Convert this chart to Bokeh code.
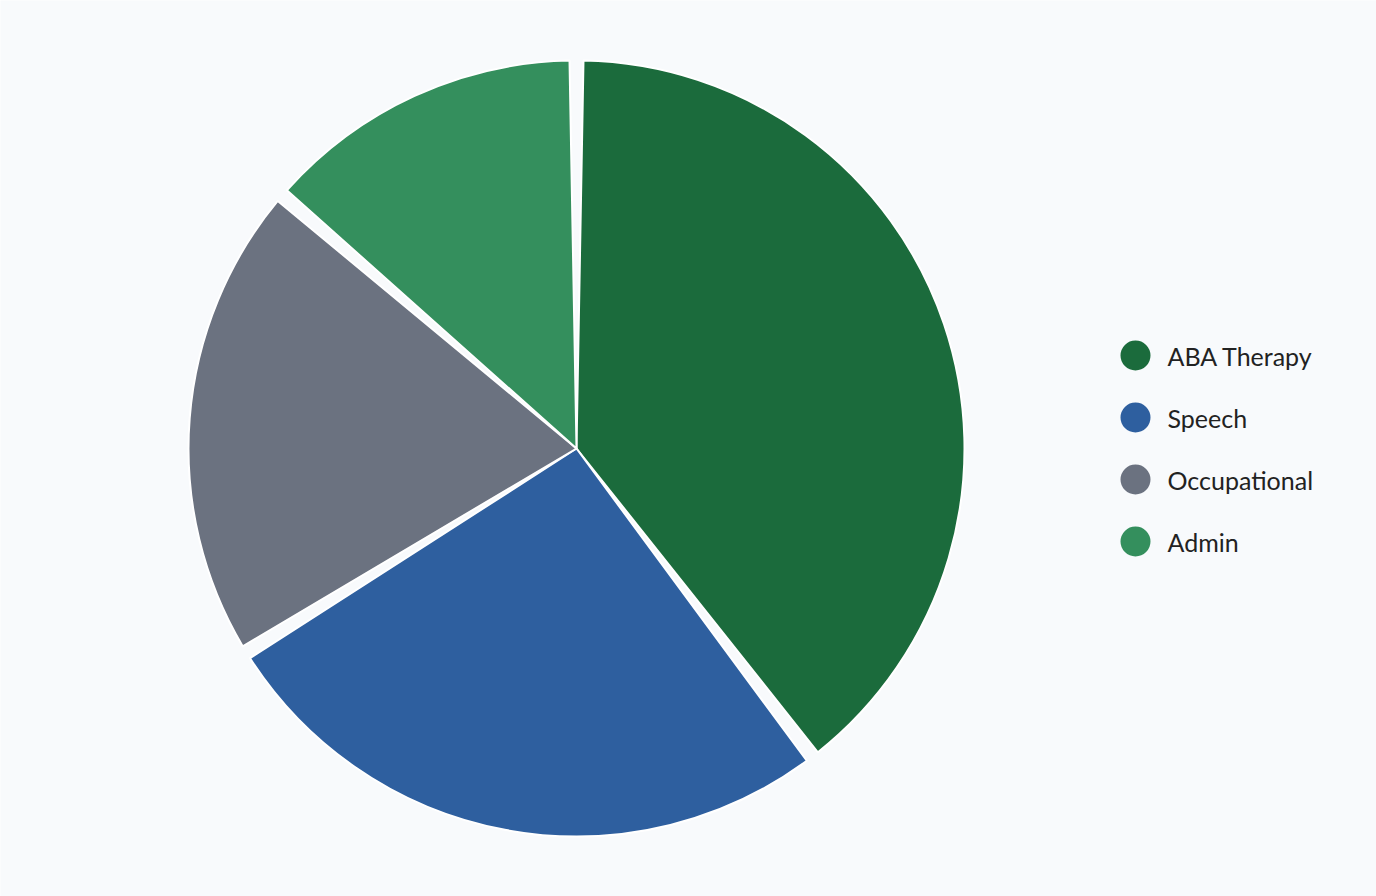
import math
from bokeh.plotting import figure
from bokeh.models import ColumnDataSource, Range1d
from bokeh.embed import file_html
from bokeh.resources import INLINE
from bokeh.core.properties import value

# ---- data ----
categories = ["ABA Therapy", "Speech", "Occupational", "Admin"]
shares = [39.6, 26.6, 20.1, 13.7]
colors = ["#1b6b3c", "#2e5f9f", "#6b7280", "#348f5d"]

BG = "#f8fafc"
W, H = 1376, 896
cx, cy, R = 576, 448, 388
gap_px = 7.0  # half gap at outer radius

total = sum(shares)
starts, ends = [], []
acc = 0.0
for s in shares:
    a0 = math.pi / 2 - 2 * math.pi * acc / total
    acc += s
    a1 = math.pi / 2 - 2 * math.pi * acc / total
    d = gap_px / R
    starts.append(a0 - d)
    ends.append(a1 + d)

src = ColumnDataSource(dict(x=[cx] * 4, y=[cy] * 4, start=starts, end=ends,
                            color=colors, cat=categories))

p = figure(width=W, height=H, output_backend="svg", toolbar_location=None,
           x_range=Range1d(0, W), y_range=Range1d(0, H), min_border=0)
p.axis.visible = False
p.grid.visible = False
p.outline_line_color = None
p.background_fill_color = BG
p.border_fill_color = BG

p.wedge(x="x", y="y", radius=R, start_angle="start", end_angle="end",
        direction="clock", fill_color="color", line_color="white",
        line_width=2, line_join="round", source=src)

# ---- legend ----
lx = 1135
ly = [541 - 62 * i for i in range(len(categories))]
lsrc = ColumnDataSource(dict(x=[lx] * 4, y=ly, tx=[lx + 32] * 4,
                             color=colors, cat=categories))
p.scatter(x="x", y="y", size=30, marker="circle", fill_color="color",
          line_color=None, source=lsrc)
p.text(x="tx", y="y", text="cat", text_baseline="middle", text_align="left",
       text_font=value("Lato"), text_font_size="25px", text_color="#222222",
       source=lsrc)

open("out.html", "w").write(file_html(p, INLINE))
